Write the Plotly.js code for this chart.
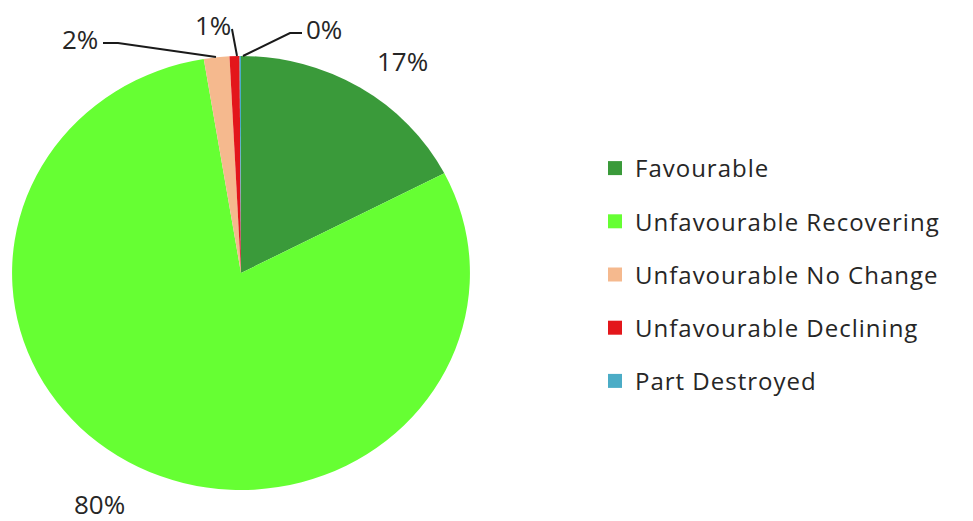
<!DOCTYPE html>
<html><head><meta charset="utf-8">
<script src="https://cdn.plot.ly/plotly-3.0.1.min.js"></script>
<style>
html,body{margin:0;padding:0;background:#fff}
#chart{width:973px;height:521px}
.pielayer{transform-origin:241px 273px;transform:scaleX(1.055)}
.legendtext{letter-spacing:1px}
</style>
</head><body><div id="chart"></div>
<script>
const categories = ['Favourable','Unfavourable Recovering','Unfavourable No Change','Unfavourable Declining','Part Destroyed'];
const values = [17.4, 80.0, 1.8, 0.7, 0.1];
const colors = ['#3a9a3a','#66ff33','#f5b98e','#e3161b','#4bacc6'];

const W = 973, H = 521;
const FONT = 'Open Sans, sans-serif';
const TXT = '#262626';
const px = (x, y) => [x / W, 1 - y / H];

const total = values.reduce((a, b) => a + b, 0);
const pctText = values.map(v => Math.round(v / total * 100) + '%');

// label anchor positions (pixels) and leader lines per category
const labelPos = [[402, 61], [99, 504], [80, 39], [213, 25], [324, 29]];
const leaders = [null, null,
  [[103, 43], [118, 43], [216, 57]],
  [[232, 29], [237, 56]],
  [[302, 33], [290, 33], [243, 56]]];

const pie = {
  type: 'pie', labels: categories, values: values, sort: false,
  direction: 'clockwise', rotation: 0,
  marker: {colors: colors, line: {width: 0}},
  textinfo: 'none', hoverinfo: 'label+percent', showlegend: false,
  domain: {x: [(241 - 240) / W, (241 + 240) / W], y: [1 - (273 + 217) / H, 1 - (273 - 217) / H]}
};

const legendTraces = categories.map((c, i) => ({
  type: 'scatter', mode: 'markers', x: [null], y: [null], name: c,
  legendgroup: 'g' + i, showlegend: true, hoverinfo: 'skip',
  marker: {symbol: 'square', size: 14, color: colors[i]}
}));

const annotations = pctText.map((t, i) => {
  const p = px(labelPos[i][0], labelPos[i][1]);
  return {text: t, x: p[0], y: p[1], xref: 'paper', yref: 'paper', showarrow: false,
    xanchor: 'center', yanchor: 'middle', font: {family: FONT, size: 26, color: TXT}};
});

const shapes = leaders.filter(l => l).map(l => ({
  type: 'path', xref: 'paper', yref: 'paper',
  path: l.map((pt, k) => { const p = px(pt[0], pt[1]); return (k ? 'L' : 'M') + p[0] + ',' + p[1]; }).join(' '),
  line: {color: '#1a1a1a', width: 2}
}));

const layout = {
  width: W, height: H, margin: {l: 0, r: 0, t: 0, b: 0},
  paper_bgcolor: '#fff', plot_bgcolor: '#fff',
  xaxis: {visible: false}, yaxis: {visible: false},
  showlegend: true,
  legend: {x: 595 / W, xanchor: 'left', y: 1 - 146 / H, yanchor: 'top',
    font: {family: FONT, size: 24, color: TXT}, tracegroupgap: 19,
    bgcolor: 'rgba(0,0,0,0)', itemclick: false, itemdoubleclick: false},
  annotations: annotations, shapes: shapes
};

Plotly.newPlot('chart', [pie].concat(legendTraces), layout, {displayModeBar: false, staticPlot: true});
</script>
</body></html>
